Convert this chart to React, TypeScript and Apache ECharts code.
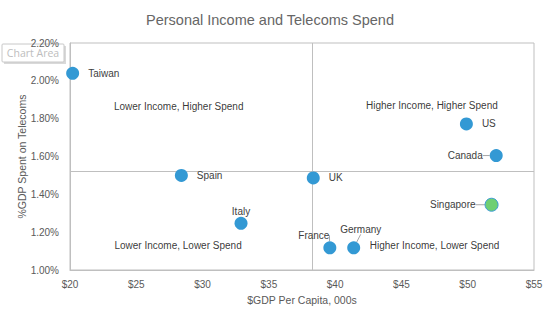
import React, { useEffect, useRef } from "react";
import * as echarts from "echarts";

const countries = ["Taiwan", "Spain", "UK", "Italy", "France", "Germany", "Singapore", "Canada", "US"];
const gdpPerCapita = [20.2, 28.4, 38.35, 32.9, 39.6, 41.4, 51.8, 52.15, 49.9];
const telecomSpend = [2.04, 1.5, 1.487, 1.247, 1.117, 1.117, 1.345, 1.605, 1.772];
const labelPositions = ["right", "right", "right", "top", "top", "top", "left", "left", "right"];
const highlighted = ["Singapore"];
const withLeaderLine = ["France", "Germany", "Singapore", "Canada"];

const quadrantNames = ["Lower Income, Higher Spend", "Higher Income, Higher Spend", "Lower Income, Lower Spend", "Higher Income, Lower Spend"];
const quadrantX = [28.2, 47.3, 28.15, 47.5];
const quadrantY = [1.862, 1.872, 1.127, 1.127];

const dividerX = 38.27;
const dividerY = 1.523;

const xTicks = { min: 20, max: 55, interval: 5 };
const yTicks = { min: 1.0, max: 2.2, interval: 0.2 };

const FONT = "'Liberation Sans', Arial, sans-serif";

export default function App() {
  const ref = useRef<HTMLDivElement>(null);
  useEffect(() => {
    if (!ref.current) return;
    const chart = echarts.init(ref.current, null, { renderer: "svg" });
    const points = countries.map((c, i) => {
      const pos = labelPositions[i];
      return {
        name: c,
        value: [gdpPerCapita[i], telecomSpend[i]],
        label: { position: pos, distance: pos === "top" ? 0 : pos === "left" ? 7 : 9 },
        labelLine: { show: withLeaderLine.includes(c) },
        itemStyle: highlighted.includes(c)
          ? { color: "#6fcf73", borderColor: "#3b9ad6", borderWidth: 1 }
          : undefined,
      };
    });
    const leaderOffsets: Record<string, [number, number]> = {
      France: [-16, -1],
      Germany: [7, -7],
      Singapore: [-2, 0],
    };
    chart.setOption({
      animation: false,
      backgroundColor: "#ffffff",
      title: {
        text: "Personal Income and Telecoms Spend",
        left: 265,
        top: 7,
        textAlign: "center",
        textStyle: { fontFamily: FONT, fontSize: 14.5, fontWeight: "normal", color: "#666666" },
      },
      grid: { left: 70, right: 22, top: 43, bottom: 55, outerBoundsMode: "none", containLabel: false },
      xAxis: {
        type: "value",
        min: xTicks.min,
        max: xTicks.max,
        interval: xTicks.interval,
        name: "$GDP Per Capita, 000s",
        nameLocation: "middle",
        nameGap: 24,
        nameMoveOverlap: false,
        nameTextStyle: { fontFamily: FONT, fontSize: 10.5, color: "#595959" },
        axisLine: { show: true, onZero: false, lineStyle: { color: "#bfbfbf" } },
        axisTick: { show: false },
        splitLine: { show: false },
        axisLabel: {
          fontFamily: FONT,
          fontSize: 10,
          color: "#595959",
          margin: 9,
          formatter: (v: number) => "$" + v,
        },
      },
      yAxis: {
        type: "value",
        min: yTicks.min,
        max: yTicks.max,
        interval: yTicks.interval,
        name: "%GDP Spent on Telecoms",
        nameLocation: "middle",
        nameGap: 43,
        nameMoveOverlap: false,
        nameTextStyle: { fontFamily: FONT, fontSize: 10.5, color: "#595959" },
        axisLine: { show: true, onZero: false, lineStyle: { color: "#bfbfbf" } },
        axisTick: { show: false },
        splitLine: { show: false },
        axisLabel: {
          fontFamily: FONT,
          fontSize: 10,
          color: "#595959",
          margin: 11,
          formatter: (v: number) => v.toFixed(2) + "%",
        },
      },
      graphic: [
        {
          type: "rect",
          shape: { x: 70, y: 43, width: 464, height: 227 },
          style: { fill: "none", stroke: "#bfbfbf", lineWidth: 1 },
          silent: true,
          z: 0,
        },
        {
          type: "group",
          z: 100,
          children: [
            {
              type: "rect",
              shape: { x: 4, y: 46, width: 62, height: 18 },
              style: { fill: "#d9d9d9" },
            },
            {
              type: "rect",
              shape: { x: 2, y: 44, width: 62, height: 18, r: 1 },
              style: { fill: "#ffffff", stroke: "#c8c8c8", lineWidth: 1 },
            },
            {
              type: "text",
              x: 33,
              y: 53,
              style: {
                text: "Chart Area",
                align: "center",
                verticalAlign: "middle",
                fontFamily: "'Open Sans', sans-serif",
                fontSize: 10.5,
                fill: "#bdbdbd",
              },
            },
          ],
        },
      ],
      series: [
        {
          type: "scatter",
          symbolSize: 13,
          z: 3,
          itemStyle: { color: "#3399d4", opacity: 1 },
          label: {
            show: true,
            formatter: "{b}",
            fontFamily: FONT,
            fontSize: 10,
            color: "#404040",
          },
          labelLine: { lineStyle: { color: "#a6a6a6", width: 1 } },
          labelLayout: (params: any) => {
            const name = countries[params.dataIndex];
            const off = leaderOffsets[name];
            if (!off) return {};
            return { dx: off[0], dy: off[1] };
          },
          data: points,
          markLine: {
            silent: true,
            symbol: "none",
            label: { show: false },
            lineStyle: { color: "#bfbfbf", width: 1, type: "solid" },
            data: [{ xAxis: dividerX }, { yAxis: dividerY }],
            z: 1,
          },
        },
        {
          type: "scatter",
          symbolSize: 0,
          silent: true,
          label: {
            show: true,
            position: "inside",
            formatter: "{b}",
            fontFamily: FONT,
            fontSize: 10,
            color: "#000000",
          },
          data: quadrantNames.map((n, i) => ({ name: n, value: [quadrantX[i], quadrantY[i]] })),
        },
      ],
    });
    return () => chart.dispose();
  }, []);
  return <div ref={ref} style={{ width: 556, height: 325, position: "absolute", left: 0, top: 0 }} />;
}
